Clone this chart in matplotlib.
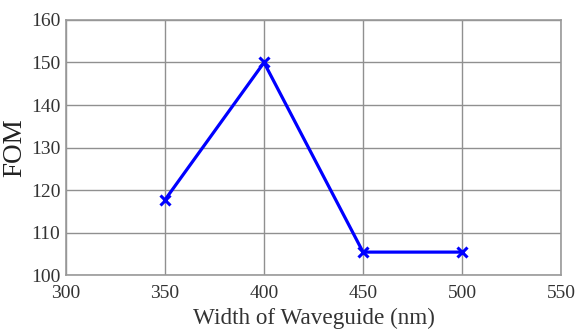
import matplotlib
matplotlib.use("Agg")
import matplotlib.pyplot as plt

widths = [350, 400, 450, 500]
fom = [117.7, 150.0, 105.4, 105.4]
xticks = [300, 350, 400, 450, 500, 550]
yticks = [100, 110, 120, 130, 140, 150, 160]

plt.rcParams['font.family'] = ['Liberation Serif', 'DejaVu Serif']

fig = plt.figure(figsize=(5.79, 3.33), dpi=100)
ax = fig.add_axes([0.114, 0.174, 0.855, 0.766])
ax.plot(widths, fom, color='#0000ff', linewidth=2.3, marker='x',
        markersize=7, markeredgewidth=2.2, zorder=3)
ax.set_xlim(300, 550)
ax.set_ylim(100, 160)
ax.set_xticks(xticks)
ax.set_yticks(yticks)
ax.grid(True, color='#909090', linewidth=1)
ax.tick_params(length=0, labelsize=14, colors='#333333')
ax.tick_params(axis='x', pad=7)
ax.tick_params(axis='y', pad=4)
for s in ax.spines.values():
    s.set_color('#999999')
    s.set_linewidth(1.2)
ax.set_xlabel('Width of Waveguide (nm)', fontsize=16.7, color='#333333', labelpad=4)
ax.set_ylabel('FOM', fontsize=19.5, color='#222222', labelpad=3)
fig.savefig('out.png', dpi=100)
